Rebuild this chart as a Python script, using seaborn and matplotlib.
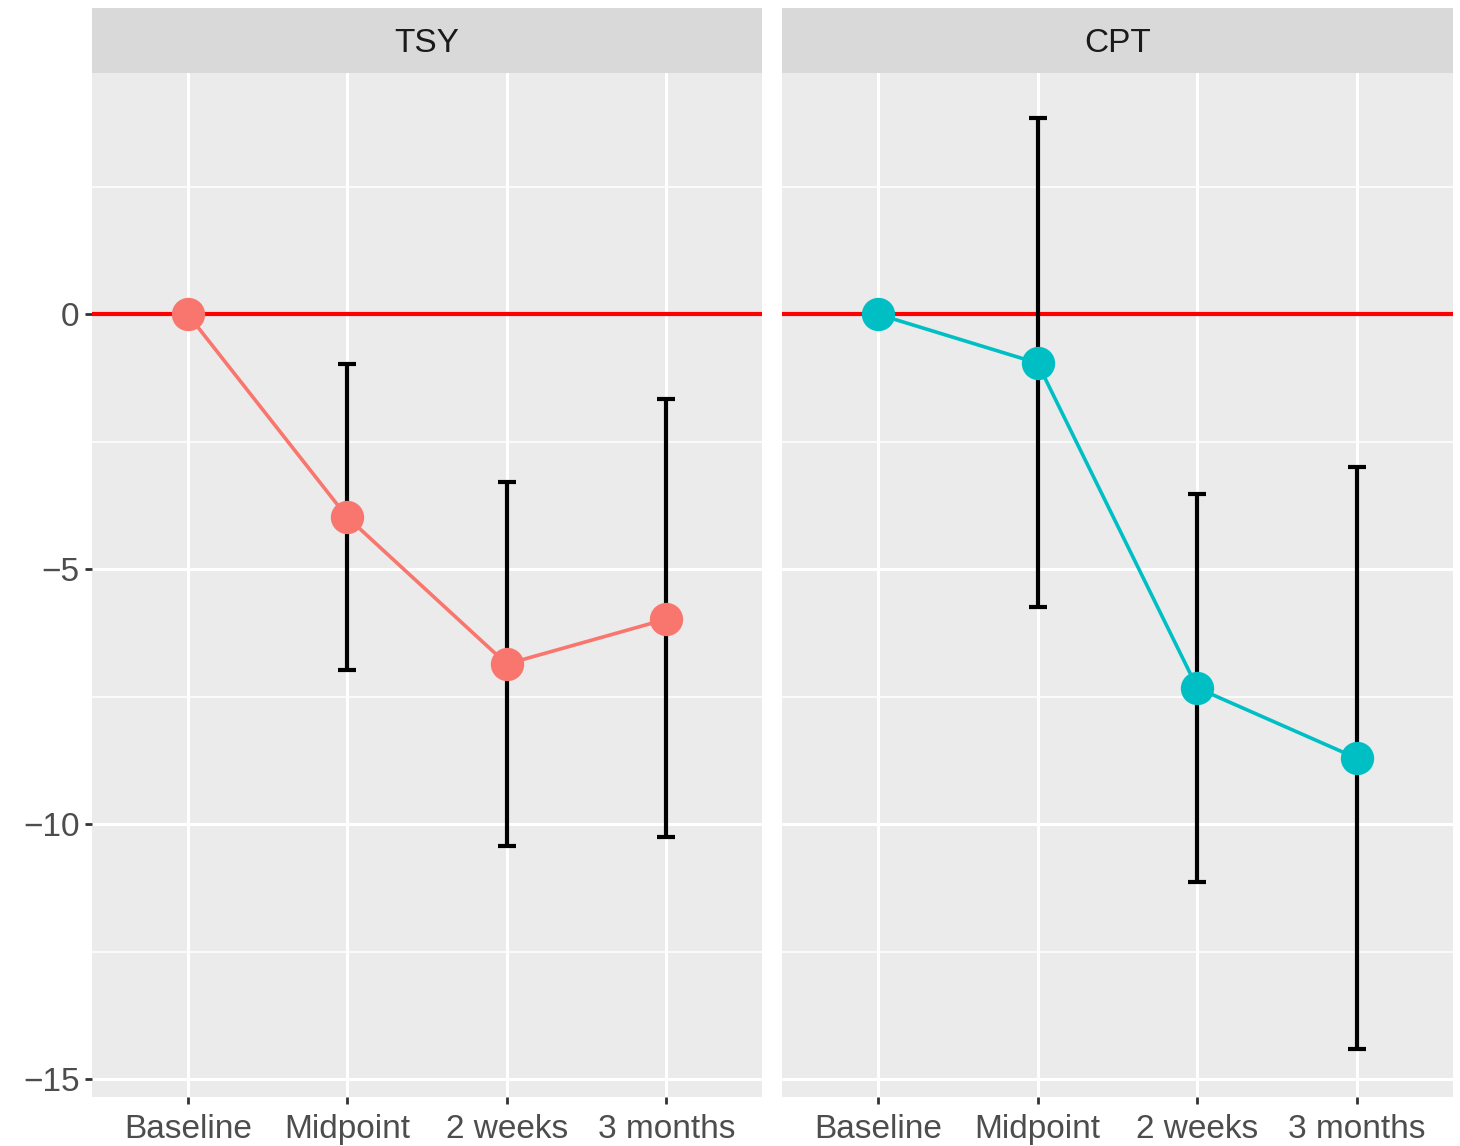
import matplotlib
matplotlib.use("Agg")
import matplotlib.pyplot as plt
import seaborn as sns
import numpy as np
import pandas as pd

# Data
timepoints = ["Baseline", "Midpoint", "2 weeks", "3 months"]
groups = ["TSY", "CPT"]
tsy_mean = [0.0, -3.98, -6.86, -5.98]
tsy_low = [np.nan, -6.98, -10.43, -10.25]
tsy_high = [np.nan, -0.98, -3.29, -1.67]
cpt_mean = [0.0, -0.96, -7.33, -8.71]
cpt_low = [np.nan, -5.75, -11.14, -14.41]
cpt_high = [np.nan, 3.84, -3.53, -3.00]
group_colors = {"TSY": "#F8766D", "CPT": "#00BFC4"}

df = pd.DataFrame({
    "group": np.repeat(groups, len(timepoints)),
    "time": timepoints * 2,
    "mean": tsy_mean + cpt_mean,
    "low": tsy_low + cpt_low,
    "high": tsy_high + cpt_high,
})
df["time"] = pd.Categorical(df["time"], categories=timepoints, ordered=True)

sns.set_theme(style="darkgrid")
plt.rcParams["font.family"] = ["Liberation Sans", "DejaVu Sans"]

fig = plt.figure(figsize=(14.6, 11.46), dpi=100)
W, H = 1460, 1146
panel_x = [(92, 762), (782, 1453)]
top_px, bot_px, strip_top = 73, 1097, 8

for i, g in enumerate(groups):
    x0, x1 = panel_x[i]
    ax = fig.add_axes([x0 / W, 1 - bot_px / H, (x1 - x0) / W, (bot_px - top_px) / H])
    sub = df[df["group"] == g].reset_index(drop=True)
    pos = np.arange(len(timepoints))

    ax.set_facecolor("#EBEBEB")
    ax.axhline(0, color="red", lw=3, zorder=2)
    mask = sub["low"].notna()
    ax.errorbar(pos[mask], sub["mean"][mask],
                yerr=[sub["mean"][mask] - sub["low"][mask], sub["high"][mask] - sub["mean"][mask]],
                fmt="none", ecolor="black", elinewidth=3, capsize=6.5, capthick=3, zorder=3)
    sns.lineplot(x=pos, y=sub["mean"].values, ax=ax, color=group_colors[g], lw=2.6,
                 marker="o", markersize=24, markeredgewidth=0, zorder=4)

    ax.set_xlim(-0.6, 3.6)
    ax.set_ylim(-15.35, 4.73)
    ax.set_xticks(pos)
    ax.set_xticklabels(timepoints)
    ax.set_yticks([0, -5, -10, -15])
    ax.set_yticks([2.5, -2.5, -7.5, -12.5], minor=True)
    ax.grid(which="major", color="white", lw=2.2)
    ax.grid(which="minor", axis="y", color="white", lw=1.1)
    ax.set_axisbelow(True)
    for s in ax.spines.values():
        s.set_visible(False)
    ax.tick_params(axis="both", which="major", length=5, width=2, color="#333333",
                   labelsize=24, labelcolor="#4D4D4D", pad=4)
    ax.tick_params(axis="x", which="major", pad=7)
    ax.tick_params(axis="both", which="minor", length=0)
    if i > 0:
        ax.tick_params(axis="y", left=False, labelleft=False)
    else:
        ax.tick_params(axis="y", left=True)
    ax.tick_params(axis="x", bottom=True)
    ax.set_xlabel("")
    ax.set_ylabel("")

    # facet strip
    sax = fig.add_axes([x0 / W, 1 - top_px / H, (x1 - x0) / W, (top_px - strip_top) / H])
    sax.set_facecolor("#D9D9D9")
    sax.set_xticks([])
    sax.set_yticks([])
    sax.grid(False)
    for s in sax.spines.values():
        s.set_visible(False)
    sax.text(0.5, 0.45, g, ha="center", va="center", fontsize=24, color="#1A1A1A",
             transform=sax.transAxes)

fig.savefig("out.png", dpi=100, facecolor="white")
